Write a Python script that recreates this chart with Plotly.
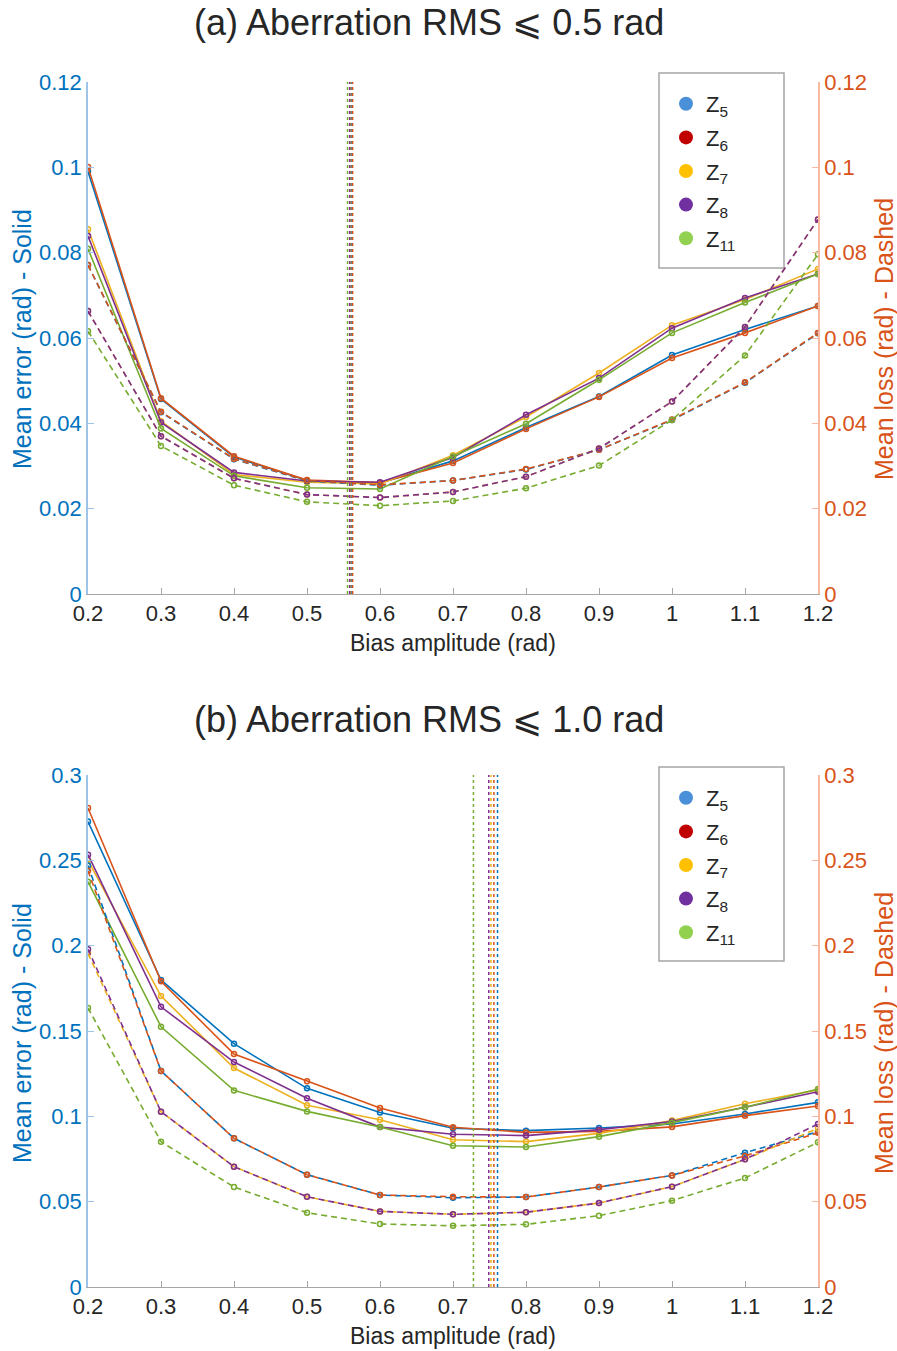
import plotly.graph_objects as go

# ---------------- data ----------------
bias = [0.2, 0.3, 0.4, 0.5, 0.6, 0.7, 0.8, 0.9, 1.0, 1.1, 1.2]
names = ["Z<sub>5</sub>", "Z<sub>6</sub>", "Z<sub>7</sub>", "Z<sub>8</sub>", "Z<sub>11</sub>"]

# (a) Aberration RMS <= 0.5 rad
a_err = {
    "Z5": [0.0990, 0.0457, 0.0321, 0.0266, 0.0260, 0.0312, 0.0390, 0.0463, 0.0560, 0.0620, 0.0675],
    "Z6": [0.1001, 0.0459, 0.0323, 0.0267, 0.0261, 0.0307, 0.0387, 0.0462, 0.0553, 0.0612, 0.0675],
    "Z7": [0.0855, 0.0405, 0.0280, 0.0262, 0.0258, 0.0325, 0.0415, 0.0518, 0.0630, 0.0690, 0.0762],
    "Z8": [0.0839, 0.0402, 0.0285, 0.0265, 0.0262, 0.0320, 0.0420, 0.0506, 0.0623, 0.0694, 0.0750],
    "Z11": [0.0809, 0.0388, 0.0277, 0.0249, 0.0246, 0.0322, 0.0399, 0.0502, 0.0612, 0.0683, 0.0750],
}
a_loss = {
    "Z5": [0.0771, 0.0426, 0.0316, 0.0265, 0.0255, 0.0266, 0.0292, 0.0338, 0.0408, 0.0495, 0.0611],
    "Z6": [0.0771, 0.0427, 0.0317, 0.0266, 0.0256, 0.0266, 0.0293, 0.0338, 0.0409, 0.0496, 0.0612],
    "Z7": [0.0663, 0.0370, 0.0271, 0.0233, 0.0226, 0.0239, 0.0275, 0.0341, 0.0451, 0.0626, 0.0878],
    "Z8": [0.0663, 0.0370, 0.0271, 0.0233, 0.0226, 0.0239, 0.0275, 0.0341, 0.0451, 0.0626, 0.0878],
    "Z11": [0.0616, 0.0347, 0.0255, 0.0216, 0.0207, 0.0218, 0.0248, 0.0301, 0.0408, 0.0559, 0.0796],
}
a_opt = {"Z11": 0.5555, "Z8": 0.5585, "Z7": 0.5595, "Z5": 0.5615, "Z6": 0.5625}

# (b) Aberration RMS <= 1.0 rad
b_err = {
    "Z5": [0.2727, 0.1799, 0.1426, 0.1164, 0.1023, 0.0930, 0.0916, 0.0932, 0.0955, 0.1014, 0.1082],
    "Z6": [0.2807, 0.1791, 0.1365, 0.1205, 0.1049, 0.0936, 0.0906, 0.0912, 0.0938, 0.1004, 0.1061],
    "Z7": [0.2500, 0.1705, 0.1283, 0.1065, 0.0980, 0.0863, 0.0852, 0.0900, 0.0975, 0.1074, 0.1155],
    "Z8": [0.2533, 0.1642, 0.1318, 0.1106, 0.0937, 0.0895, 0.0887, 0.0922, 0.0970, 0.1053, 0.1144],
    "Z11": [0.2375, 0.1525, 0.1152, 0.1029, 0.0937, 0.0828, 0.0820, 0.0881, 0.0963, 0.1053, 0.1160],
}
b_loss = {
    "Z5": [0.2469, 0.1266, 0.0871, 0.0658, 0.0539, 0.0523, 0.0527, 0.0586, 0.0654, 0.0787, 0.0910],
    "Z6": [0.2439, 0.1266, 0.0871, 0.0658, 0.0539, 0.0529, 0.0527, 0.0586, 0.0654, 0.0768, 0.0904],
    "Z7": [0.1955, 0.1027, 0.0705, 0.0529, 0.0443, 0.0426, 0.0438, 0.0492, 0.0588, 0.0748, 0.0930],
    "Z8": [0.1979, 0.1027, 0.0705, 0.0529, 0.0443, 0.0426, 0.0438, 0.0492, 0.0588, 0.0748, 0.0955],
    "Z11": [0.1635, 0.0851, 0.0586, 0.0435, 0.0369, 0.0359, 0.0367, 0.0418, 0.0506, 0.0639, 0.0848],
}
b_opt = {"Z11": 0.728, "Z8": 0.749, "Z7": 0.752, "Z6": 0.756, "Z5": 0.761}

keys = ["Z5", "Z6", "Z7", "Z8", "Z11"]
line_colors = {"Z5": "#0072BD", "Z6": "#D95319", "Z7": "#EDB120", "Z8": "#7E2F8E", "Z11": "#77AC30"}
legend_colors = {"Z5": "#4A90D9", "Z6": "#C00000", "Z7": "#FFC000", "Z8": "#7030A0", "Z11": "#92D050"}

BLUE = "#0072BD"
ORANGE = "#D95319"
FONT = "Liberation Sans, Arial, DejaVu Sans, sans-serif"

fig = go.Figure()

def add_panel(err, loss, opt, xa, ya_l, ya_r, legend_name):
    for k in keys:
        c = line_colors[k]
        fig.add_trace(go.Scatter(
            x=bias, y=loss[k], xaxis=xa, yaxis=ya_r, mode="lines+markers",
            line=dict(color=c, width=1.6, dash="6px,4px"),
            marker=dict(symbol="circle-open", size=5, color=c, line=dict(width=1.5, color=c)),
            showlegend=False, hoverinfo="skip"))
    for k in keys:
        c = line_colors[k]
        fig.add_trace(go.Scatter(
            x=bias, y=err[k], xaxis=xa, yaxis=ya_l, mode="lines+markers",
            line=dict(color=c, width=1.6),
            marker=dict(symbol="circle-open", size=5, color=c, line=dict(width=1.5, color=c)),
            showlegend=False, hoverinfo="skip"))
    for k in keys:
        fig.add_shape(type="line", xref=xa, yref=ya_l + " domain", x0=opt[k], x1=opt[k], y0=0, y1=1,
                      line=dict(color=line_colors[k], width=1.5, dash="dot"))
    for k, nm in zip(keys, names):
        fig.add_trace(go.Scatter(
            x=[None], y=[None], xaxis=xa, yaxis=ya_l, mode="markers", name=nm,
            marker=dict(size=14, color=legend_colors[k]), legend=legend_name,
            legendgroup=legend_name + k, showlegend=True))

add_panel(a_err, a_loss, a_opt, "x", "y", "y2", "legend")
add_panel(b_err, b_loss, b_opt, "x2", "y3", "y4", "legend2")

W, H = 897, 1351
# plot area x 88..818, top panel y 82..594, bottom panel y 775..1287
ml, mr, mt, mb = 88, W - 818, 82, H - 1287
ph = H - mt - mb
pw = W - ml - mr

def py(ypix):
    return (1287 - ypix) / ph

def px(xpix):
    return (xpix - 88) / pw

top_dom = [py(594), 1.0]
bot_dom = [0.0, py(775)]

xcommon = dict(range=[0.2, 1.2], tick0=0.2, dtick=0.1, ticks="inside", ticklen=6,
               tickcolor="#A6A6A6", showline=True, linecolor="#A6A6A6", linewidth=1,
               showgrid=False, zeroline=False, tickfont=dict(family=FONT, size=22, color="#262626"))

def ycommon(rng, dt, col, linecol):
    return dict(range=rng, dtick=dt, tick0=0, ticks="inside", ticklen=6, tickcolor=linecol,
                showline=True, linecolor=linecol, linewidth=1.5, showgrid=False, zeroline=False,
                tickfont=dict(family=FONT, size=22, color=col))

fig.update_layout(
    width=W, height=H, margin=dict(l=ml, r=mr, t=mt, b=mb),
    paper_bgcolor="white", plot_bgcolor="white",
    font=dict(family=FONT),
    xaxis=dict(domain=[0, 1], anchor="y", **xcommon),
    yaxis=dict(domain=top_dom, anchor="x", **ycommon([0, 0.12], 0.02, BLUE, "#9DC3E6")),
    yaxis2=dict(domain=top_dom, anchor="x", overlaying="y", side="right",
                **ycommon([0, 0.12], 0.02, ORANGE, "#F8B9A0")),
    xaxis2=dict(domain=[0, 1], anchor="y3", **xcommon),
    yaxis3=dict(domain=bot_dom, anchor="x2", **ycommon([0, 0.3], 0.05, BLUE, "#9DC3E6")),
    yaxis4=dict(domain=bot_dom, anchor="x2", overlaying="y3", side="right",
                **ycommon([0, 0.3], 0.05, ORANGE, "#F8B9A0")),
    legend=dict(x=px(666), y=py(83), xanchor="left", yanchor="top",
                borderwidth=0, bgcolor="rgba(255,255,255,0)",
                font=dict(family=FONT, size=22, color="#262626"), tracegroupgap=2),
    legend2=dict(x=px(666), y=py(777), xanchor="left", yanchor="top",
                 borderwidth=0, bgcolor="rgba(255,255,255,0)",
                 font=dict(family=FONT, size=22, color="#262626"), tracegroupgap=2),
)

# legend frames
for y0, y1 in [(73, 268), (767, 961)]:
    fig.add_shape(type="rect", xref="paper", yref="paper", x0=px(659), x1=px(784),
                  y0=py(y1), y1=py(y0), line=dict(color="#A6A6A6", width=1.5),
                  fillcolor="white", layer="below")

ann = []
for title, yc in [("(a) Aberration RMS ⩽ 0.5 rad", 23), ("(b) Aberration RMS ⩽ 1.0 rad", 719)]:
    ann.append(dict(text=title, x=px(429), y=py(yc), xref="paper", yref="paper",
                    showarrow=False, xanchor="center", yanchor="middle",
                    font=dict(family=FONT, size=36, color="#262626")))
for yc in [643, 1336]:
    ann.append(dict(text="Bias amplitude (rad)", x=px(453), y=py(yc), xref="paper", yref="paper",
                    showarrow=False, xanchor="center", yanchor="middle",
                    font=dict(family=FONT, size=23, color="#262626")))
for yc in [339, 1033]:
    ann.append(dict(text="Mean error (rad) - Solid", x=px(22), y=py(yc), xref="paper", yref="paper",
                    showarrow=False, xanchor="center", yanchor="middle", textangle=-90,
                    font=dict(family=FONT, size=25, color=BLUE)))
    ann.append(dict(text="Mean loss (rad) - Dashed", x=px(884), y=py(yc), xref="paper", yref="paper",
                    showarrow=False, xanchor="center", yanchor="middle", textangle=-90,
                    font=dict(family=FONT, size=25, color=ORANGE)))
fig.update_layout(annotations=ann)

fig.write_html("out.html", config={"displayModeBar": False},
               post_script="document.body.style.margin='0';document.body.style.overflow='hidden';")
